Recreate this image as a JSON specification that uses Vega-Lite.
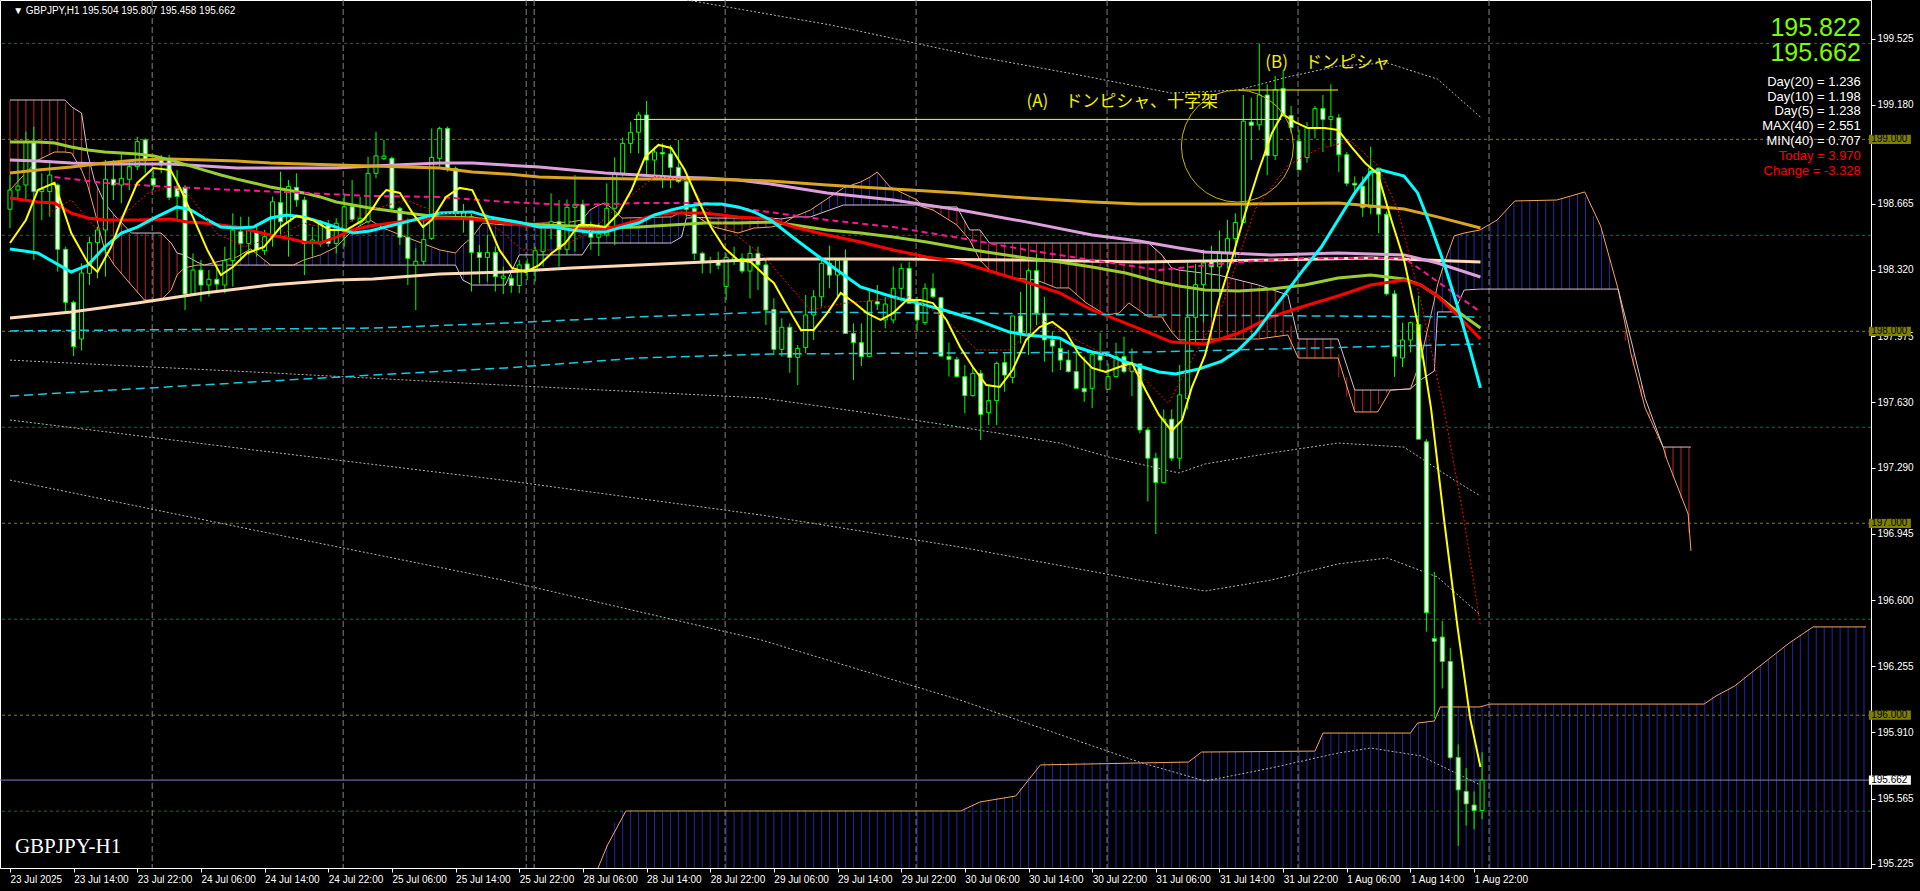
{
"$schema":"https://vega.github.io/schema/vega-lite/v6.json",
"width":1871,"height":868,
"autosize":{"type":"none"},
"padding":{"left":0,"top":0,"right":49,"bottom":23},
"background":"#000000",
"resolve":{"scale":{"color":"independent","strokeDash":"independent"}},
"config":{"view":{"stroke":"#ffffff","strokeWidth":1},"axis":{"grid":false,"labelColor":"#ffffff","tickColor":"#ffffff","domainColor":"#ffffff","labelFont":"Liberation Sans","labelFontSize":10,"tickSize":4,"labelPadding":2}},
"datasets":{
"c":[
{"i":0,"o":198.636,"h":198.814,"l":198.537,"c":198.736},
{"i":1,"o":198.736,"h":198.884,"l":198.684,"c":198.757},
{"i":2,"o":198.762,"h":199.040,"l":198.684,"c":198.988},
{"i":3,"o":198.988,"h":199.066,"l":198.372,"c":198.728},
{"i":4,"o":198.728,"h":198.823,"l":198.580,"c":198.740},
{"i":5,"o":198.728,"h":198.893,"l":198.597,"c":198.814},
{"i":6,"o":198.762,"h":198.771,"l":198.311,"c":198.427},
{"i":7,"o":198.427,"h":198.441,"l":198.102,"c":198.151},
{"i":8,"o":198.151,"h":198.160,"l":197.870,"c":197.920},
{"i":9,"o":197.960,"h":198.354,"l":197.900,"c":198.304},
{"i":10,"o":198.302,"h":198.493,"l":198.241,"c":198.462},
{"i":11,"o":198.462,"h":198.545,"l":198.276,"c":198.528},
{"i":12,"o":198.528,"h":198.893,"l":198.285,"c":198.792},
{"i":13,"o":198.792,"h":198.893,"l":198.684,"c":198.762},
{"i":14,"o":198.762,"h":198.927,"l":198.667,"c":198.797},
{"i":15,"o":198.792,"h":198.893,"l":198.736,"c":198.858},
{"i":16,"o":198.858,"h":199.014,"l":198.840,"c":198.988},
{"i":17,"o":198.997,"h":199.005,"l":198.823,"c":198.889},
{"i":18,"o":198.797,"h":198.840,"l":198.736,"c":198.762},
{"i":19,"o":198.896,"h":198.919,"l":198.823,"c":198.867},
{"i":20,"o":198.896,"h":198.919,"l":198.684,"c":198.698},
{"i":21,"o":198.745,"h":198.840,"l":198.571,"c":198.702},
{"i":22,"o":198.750,"h":198.762,"l":198.111,"c":198.194},
{"i":23,"o":198.194,"h":198.406,"l":198.189,"c":198.319},
{"i":24,"o":198.319,"h":198.372,"l":198.155,"c":198.241},
{"i":25,"o":198.241,"h":198.319,"l":198.181,"c":198.271},
{"i":26,"o":198.271,"h":198.337,"l":198.207,"c":198.246},
{"i":27,"o":198.241,"h":198.441,"l":198.198,"c":198.368},
{"i":28,"o":198.368,"h":198.615,"l":198.233,"c":198.528},
{"i":29,"o":198.519,"h":198.597,"l":198.372,"c":198.458},
{"i":30,"o":198.458,"h":198.597,"l":198.398,"c":198.528},
{"i":31,"o":198.519,"h":198.545,"l":198.389,"c":198.424},
{"i":32,"o":198.420,"h":198.528,"l":198.398,"c":198.493},
{"i":33,"o":198.493,"h":198.702,"l":198.441,"c":198.675},
{"i":34,"o":198.670,"h":198.832,"l":198.493,"c":198.571},
{"i":35,"o":198.571,"h":198.788,"l":198.389,"c":198.754},
{"i":36,"o":198.750,"h":198.823,"l":198.649,"c":198.684},
{"i":37,"o":198.684,"h":198.702,"l":198.293,"c":198.458},
{"i":38,"o":198.458,"h":198.545,"l":198.389,"c":198.476},
{"i":39,"o":198.455,"h":198.580,"l":198.441,"c":198.563},
{"i":40,"o":198.557,"h":198.580,"l":198.441,"c":198.458},
{"i":41,"o":198.458,"h":198.589,"l":198.406,"c":198.563},
{"i":42,"o":198.519,"h":198.719,"l":198.441,"c":198.649},
{"i":43,"o":198.649,"h":198.788,"l":198.571,"c":198.583},
{"i":44,"o":198.566,"h":198.702,"l":198.554,"c":198.589},
{"i":45,"o":198.571,"h":198.910,"l":198.563,"c":198.823},
{"i":46,"o":198.823,"h":199.040,"l":198.797,"c":198.914},
{"i":47,"o":198.899,"h":198.997,"l":198.892,"c":198.913},
{"i":48,"o":198.901,"h":198.910,"l":198.623,"c":198.641},
{"i":49,"o":198.641,"h":198.649,"l":198.450,"c":198.490},
{"i":50,"o":198.490,"h":198.589,"l":198.241,"c":198.380},
{"i":51,"o":198.344,"h":198.432,"l":198.111,"c":198.365},
{"i":52,"o":198.365,"h":198.580,"l":198.346,"c":198.479},
{"i":53,"o":198.484,"h":199.057,"l":198.476,"c":198.906},
{"i":54,"o":198.901,"h":199.066,"l":198.858,"c":199.057},
{"i":55,"o":199.057,"h":199.066,"l":198.832,"c":198.849},
{"i":56,"o":198.849,"h":198.858,"l":198.589,"c":198.618},
{"i":57,"o":198.597,"h":198.663,"l":198.514,"c":198.618},
{"i":58,"o":198.597,"h":198.615,"l":198.207,"c":198.411},
{"i":59,"o":198.411,"h":198.450,"l":198.250,"c":198.385},
{"i":60,"o":198.385,"h":198.502,"l":198.259,"c":198.411},
{"i":61,"o":198.411,"h":198.441,"l":198.207,"c":198.285},
{"i":62,"o":198.276,"h":198.337,"l":198.194,"c":198.288},
{"i":63,"o":198.276,"h":198.297,"l":198.200,"c":198.239},
{"i":64,"o":198.239,"h":198.372,"l":198.198,"c":198.346},
{"i":65,"o":198.351,"h":198.380,"l":198.267,"c":198.316},
{"i":66,"o":198.316,"h":198.441,"l":198.259,"c":198.420},
{"i":67,"o":198.415,"h":198.562,"l":198.337,"c":198.557},
{"i":68,"o":198.550,"h":198.719,"l":198.479,"c":198.571},
{"i":69,"o":198.571,"h":198.684,"l":198.337,"c":198.427},
{"i":70,"o":198.427,"h":198.687,"l":198.398,"c":198.646},
{"i":71,"o":198.646,"h":198.814,"l":198.415,"c":198.662},
{"i":72,"o":198.662,"h":198.684,"l":198.510,"c":198.554},
{"i":73,"o":198.554,"h":198.571,"l":198.424,"c":198.490},
{"i":74,"o":198.490,"h":198.562,"l":198.392,"c":198.507},
{"i":75,"o":198.502,"h":198.771,"l":198.493,"c":198.641},
{"i":76,"o":198.641,"h":198.906,"l":198.450,"c":198.823},
{"i":77,"o":198.823,"h":199.009,"l":198.806,"c":198.979},
{"i":78,"o":198.979,"h":199.092,"l":198.927,"c":199.037},
{"i":79,"o":199.037,"h":199.144,"l":198.927,"c":199.127},
{"i":80,"o":199.127,"h":199.200,"l":198.806,"c":198.892},
{"i":81,"o":198.892,"h":198.962,"l":198.797,"c":198.934},
{"i":82,"o":198.931,"h":198.979,"l":198.745,"c":198.924},
{"i":83,"o":198.924,"h":198.971,"l":198.745,"c":198.854},
{"i":84,"o":198.854,"h":198.997,"l":198.771,"c":198.780},
{"i":85,"o":198.780,"h":198.806,"l":198.597,"c":198.635},
{"i":86,"o":198.641,"h":198.649,"l":198.371,"c":198.406},
{"i":87,"o":198.406,"h":198.415,"l":198.302,"c":198.358},
{"i":88,"o":198.363,"h":198.389,"l":198.302,"c":198.358},
{"i":89,"o":198.361,"h":198.415,"l":198.323,"c":198.344},
{"i":90,"o":198.233,"h":198.406,"l":198.163,"c":198.385},
{"i":91,"o":198.375,"h":198.441,"l":198.346,"c":198.383},
{"i":92,"o":198.380,"h":198.406,"l":198.302,"c":198.314},
{"i":93,"o":198.314,"h":198.444,"l":198.172,"c":198.406},
{"i":94,"o":198.406,"h":198.441,"l":198.215,"c":198.346},
{"i":95,"o":198.346,"h":198.371,"l":198.033,"c":198.111},
{"i":96,"o":198.114,"h":198.172,"l":197.876,"c":197.906},
{"i":97,"o":197.906,"h":198.068,"l":197.868,"c":198.021},
{"i":98,"o":198.021,"h":198.042,"l":197.784,"c":197.864},
{"i":99,"o":197.864,"h":197.929,"l":197.720,"c":197.911},
{"i":100,"o":197.916,"h":198.189,"l":197.886,"c":198.085},
{"i":101,"o":198.085,"h":198.215,"l":197.955,"c":198.180},
{"i":102,"o":198.180,"h":198.380,"l":198.128,"c":198.354},
{"i":103,"o":198.354,"h":198.446,"l":198.224,"c":198.293},
{"i":104,"o":198.293,"h":198.380,"l":198.172,"c":198.371},
{"i":105,"o":198.371,"h":198.427,"l":197.989,"c":197.989},
{"i":106,"o":197.989,"h":198.041,"l":197.746,"c":197.941},
{"i":107,"o":197.941,"h":198.041,"l":197.819,"c":197.868},
{"i":108,"o":197.868,"h":198.215,"l":197.868,"c":198.158},
{"i":109,"o":198.154,"h":198.241,"l":198.111,"c":198.142},
{"i":110,"o":198.059,"h":198.180,"l":198.015,"c":198.142},
{"i":111,"o":198.059,"h":198.337,"l":198.041,"c":198.224},
{"i":112,"o":198.224,"h":198.354,"l":198.154,"c":198.328},
{"i":113,"o":198.328,"h":198.363,"l":198.146,"c":198.146},
{"i":114,"o":198.154,"h":198.180,"l":197.998,"c":198.059},
{"i":115,"o":198.045,"h":198.250,"l":198.033,"c":198.224},
{"i":116,"o":198.224,"h":198.302,"l":198.172,"c":198.180},
{"i":117,"o":198.175,"h":198.180,"l":197.868,"c":197.871},
{"i":118,"o":197.868,"h":197.941,"l":197.764,"c":197.854},
{"i":119,"o":197.854,"h":197.868,"l":197.759,"c":197.764},
{"i":120,"o":197.764,"h":197.824,"l":197.573,"c":197.665},
{"i":121,"o":197.665,"h":197.816,"l":197.660,"c":197.781},
{"i":122,"o":197.781,"h":197.798,"l":197.434,"c":197.567},
{"i":123,"o":197.576,"h":197.720,"l":197.512,"c":197.639},
{"i":124,"o":197.639,"h":197.842,"l":197.512,"c":197.833},
{"i":125,"o":197.837,"h":197.885,"l":197.685,"c":197.772},
{"i":126,"o":197.760,"h":198.080,"l":197.729,"c":198.080},
{"i":127,"o":198.080,"h":198.206,"l":197.937,"c":197.989},
{"i":128,"o":197.989,"h":198.328,"l":197.876,"c":198.316},
{"i":129,"o":198.316,"h":198.403,"l":198.033,"c":198.094},
{"i":130,"o":198.094,"h":198.180,"l":197.842,"c":197.955},
{"i":131,"o":197.955,"h":197.998,"l":197.786,"c":197.923},
{"i":132,"o":197.911,"h":197.955,"l":197.798,"c":197.850},
{"i":133,"o":197.850,"h":197.903,"l":197.784,"c":197.791},
{"i":134,"o":197.790,"h":197.903,"l":197.703,"c":197.703},
{"i":135,"o":197.703,"h":197.868,"l":197.633,"c":197.685},
{"i":136,"o":197.703,"h":197.894,"l":197.599,"c":197.880},
{"i":137,"o":197.873,"h":197.993,"l":197.790,"c":197.850},
{"i":138,"o":197.698,"h":197.833,"l":197.694,"c":197.764},
{"i":139,"o":197.764,"h":197.941,"l":197.760,"c":197.868},
{"i":140,"o":197.868,"h":197.972,"l":197.781,"c":197.790},
{"i":141,"o":197.790,"h":197.911,"l":197.663,"c":197.830},
{"i":142,"o":197.830,"h":197.833,"l":197.468,"c":197.486},
{"i":143,"o":197.486,"h":197.500,"l":197.113,"c":197.339},
{"i":144,"o":197.339,"h":197.367,"l":196.944,"c":197.212},
{"i":145,"o":197.212,"h":197.593,"l":197.212,"c":197.542},
{"i":146,"o":197.542,"h":197.593,"l":197.325,"c":197.339},
{"i":147,"o":197.339,"h":197.825,"l":197.283,"c":197.669},
{"i":148,"o":197.650,"h":198.356,"l":197.593,"c":198.073},
{"i":149,"o":198.073,"h":198.350,"l":197.932,"c":198.243},
{"i":150,"o":198.243,"h":198.426,"l":198.045,"c":198.356},
{"i":151,"o":198.361,"h":198.446,"l":198.073,"c":198.336},
{"i":152,"o":198.336,"h":198.525,"l":198.186,"c":198.412},
{"i":153,"o":198.412,"h":198.581,"l":198.327,"c":198.483},
{"i":154,"o":198.483,"h":198.615,"l":198.384,"c":198.567},
{"i":155,"o":198.567,"h":199.231,"l":198.567,"c":199.095},
{"i":156,"o":199.090,"h":199.217,"l":198.892,"c":199.073},
{"i":157,"o":199.076,"h":199.499,"l":199.047,"c":199.231},
{"i":158,"o":199.231,"h":199.287,"l":198.813,"c":198.915},
{"i":159,"o":198.915,"h":199.330,"l":198.892,"c":199.259},
{"i":160,"o":199.265,"h":199.358,"l":199.118,"c":199.124},
{"i":161,"o":199.124,"h":199.174,"l":199.033,"c":199.061},
{"i":162,"o":198.991,"h":199.050,"l":198.841,"c":198.841},
{"i":163,"o":198.906,"h":199.090,"l":198.878,"c":199.061},
{"i":164,"o":199.056,"h":199.174,"l":199.005,"c":199.160},
{"i":165,"o":199.160,"h":199.231,"l":198.934,"c":199.104},
{"i":166,"o":199.104,"h":199.287,"l":198.962,"c":199.118},
{"i":167,"o":199.112,"h":199.132,"l":198.830,"c":198.920},
{"i":168,"o":198.920,"h":198.934,"l":198.756,"c":198.771},
{"i":169,"o":198.771,"h":198.807,"l":198.722,"c":198.762},
{"i":170,"o":198.756,"h":198.807,"l":198.596,"c":198.644},
{"i":171,"o":198.644,"h":198.962,"l":198.610,"c":198.850},
{"i":172,"o":198.850,"h":198.850,"l":198.511,"c":198.610},
{"i":173,"o":198.610,"h":198.624,"l":198.186,"c":198.195},
{"i":174,"o":198.195,"h":198.214,"l":197.763,"c":197.870},
{"i":175,"o":197.861,"h":198.045,"l":197.813,"c":197.955},
{"i":176,"o":197.955,"h":198.050,"l":197.890,"c":198.045},
{"i":177,"o":198.036,"h":198.186,"l":197.438,"c":197.438},
{"i":178,"o":197.424,"h":197.438,"l":196.435,"c":196.534},
{"i":179,"o":196.399,"h":196.746,"l":195.984,"c":196.385},
{"i":180,"o":196.407,"h":196.492,"l":196.139,"c":196.280},
{"i":181,"o":196.280,"h":196.351,"l":195.772,"c":195.780},
{"i":182,"o":195.780,"h":195.848,"l":195.320,"c":195.611},
{"i":183,"o":195.603,"h":195.724,"l":195.425,"c":195.538},
{"i":184,"o":195.532,"h":195.603,"l":195.405,"c":195.504},
{"i":185,"o":195.504,"h":195.807,"l":195.458,"c":195.662}
],
"ln":[
{"s":"y1","i":0,"p":198.460},{"s":"y1","i":2,"p":198.580},{"s":"y1","i":3.5,"p":198.736},{"s":"y1","i":5.6,"p":198.773},{"s":"y1","i":7.7,"p":198.512},{"s":"y1","i":9.8,"p":198.356},{"s":"y1","i":11,"p":198.309},{"s":"y1","i":12.7,"p":198.439},{"s":"y1","i":14,"p":198.580},{"s":"y1","i":16,"p":198.773},{"s":"y1","i":18,"p":198.851},{"s":"y1","i":20.2,"p":198.840},{"s":"y1","i":21.5,"p":198.736},{"s":"y1","i":23,"p":198.595},{"s":"y1","i":24.8,"p":198.424},{"s":"y1","i":26.5,"p":198.293},{"s":"y1","i":28,"p":198.335},{"s":"y1","i":29.8,"p":198.408},{"s":"y1","i":31.9,"p":198.439},{"s":"y1","i":34,"p":198.543},{"s":"y1","i":36,"p":198.601},{"s":"y1","i":38,"p":198.580},{"s":"y1","i":40.2,"p":198.528},{"s":"y1","i":42.3,"p":198.528},{"s":"y1","i":44.4,"p":198.580},{"s":"y1","i":45.6,"p":198.642},{"s":"y1","i":46.5,"p":198.700},{"s":"y1","i":47.3,"p":198.736},{"s":"y1","i":49,"p":198.721},{"s":"y1","i":50.6,"p":198.616},{"s":"y1","i":51.9,"p":198.543},{"s":"y1","i":53,"p":198.580},{"s":"y1","i":54.8,"p":198.700},{"s":"y1","i":56.5,"p":198.747},{"s":"y1","i":58.1,"p":198.736},{"s":"y1","i":59.8,"p":198.590},{"s":"y1","i":61.5,"p":198.424},{"s":"y1","i":63.1,"p":198.330},{"s":"y1","i":64.8,"p":198.309},{"s":"y1","i":66.5,"p":198.345},{"s":"y1","i":68.1,"p":198.408},{"s":"y1","i":69.8,"p":198.460},{"s":"y1","i":71.5,"p":198.554},{"s":"y1","i":73.1,"p":198.554},{"s":"y1","i":74.8,"p":198.543},{"s":"y1","i":76.5,"p":198.616},{"s":"y1","i":78.1,"p":198.736},{"s":"y1","i":79.8,"p":198.908},{"s":"y1","i":81.5,"p":198.971},{"s":"y1","i":83.1,"p":198.955},{"s":"y1","i":84.8,"p":198.840},{"s":"y1","i":86.5,"p":198.684},{"s":"y1","i":88.1,"p":198.543},{"s":"y1","i":89.8,"p":198.434},{"s":"y1","i":91.5,"p":198.371},{"s":"y1","i":93.1,"p":198.361},{"s":"y1","i":94.8,"p":198.293},{"s":"y1","i":96,"p":198.252},{"s":"y1","i":97.7,"p":198.127},{"s":"y1","i":99.4,"p":198.007},{"s":"y1","i":101,"p":198.007},{"s":"y1","i":102.7,"p":198.095},{"s":"y1","i":104.4,"p":198.200},{"s":"y1","i":106,"p":198.153},{"s":"y1","i":107.7,"p":198.095},{"s":"y1","i":109.4,"p":198.059},{"s":"y1","i":111,"p":198.095},{"s":"y1","i":112.7,"p":198.163},{"s":"y1","i":114.4,"p":198.163},{"s":"y1","i":116,"p":198.147},{"s":"y1","i":117.7,"p":198.059},{"s":"y1","i":119.4,"p":197.918},{"s":"y1","i":121,"p":197.814},{"s":"y1","i":122.7,"p":197.720},{"s":"y1","i":124.4,"p":197.710},{"s":"y1","i":126,"p":197.798},{"s":"y1","i":127.7,"p":197.955},{"s":"y1","i":129.4,"p":198.022},{"s":"y1","i":131,"p":198.049},{"s":"y1","i":132.7,"p":197.996},{"s":"y1","i":134.4,"p":197.877},{"s":"y1","i":136,"p":197.809},{"s":"y1","i":137.7,"p":197.788},{"s":"y1","i":139.4,"p":197.814},{"s":"y1","i":141,"p":197.835},{"s":"y1","i":142.7,"p":197.694},{"s":"y1","i":144.4,"p":197.564},{"s":"y1","i":146,"p":197.481},{"s":"y1","i":147.3,"p":197.538},{"s":"y1","i":148.5,"p":197.705},{"s":"y1","i":150.2,"p":197.877},{"s":"y1","i":151.9,"p":198.158},{"s":"y1","i":153.6,"p":198.382},{"s":"y1","i":155.2,"p":198.611},{"s":"y1","i":156.9,"p":198.835},{"s":"y1","i":158.6,"p":199.033},{"s":"y1","i":159.9,"p":199.132},{"s":"y1","i":161.5,"p":199.090},{"s":"y1","i":163.1,"p":199.059},{"s":"y1","i":165.2,"p":199.059},{"s":"y1","i":166.9,"p":199.049},{"s":"y1","i":168.6,"p":198.960},{"s":"y1","i":170.3,"p":198.877},{"s":"y1","i":171.9,"p":198.820},{"s":"y1","i":173.6,"p":198.580},{"s":"y1","i":175.2,"p":198.371},{"s":"y1","i":176.9,"p":198.043},{"s":"y1","i":178.6,"p":197.595},{"s":"y1","i":180.2,"p":197.027},{"s":"y1","i":181.9,"p":196.465},{"s":"y1","i":183.5,"p":195.985},{"s":"y1","i":184.8,"p":195.730},
{"s":"rd","i":4.8,"p":198.615},{"s":"rd","i":7.7,"p":198.684},{"s":"rd","i":11,"p":198.528},{"s":"rd","i":14,"p":198.597},{"s":"rd","i":17.3,"p":198.719},{"s":"rd","i":20.2,"p":198.753},{"s":"rd","i":22.7,"p":198.701},{"s":"rd","i":26,"p":198.511},{"s":"rd","i":29.4,"p":198.441},{"s":"rd","i":33.5,"p":198.493},{"s":"rd","i":36.9,"p":198.563},{"s":"rd","i":41,"p":198.528},{"s":"rd","i":45.2,"p":198.632},{"s":"rd","i":49.8,"p":198.684},{"s":"rd","i":54,"p":198.615},{"s":"rd","i":58.1,"p":198.615},{"s":"rd","i":61.5,"p":198.528},{"s":"rd","i":64.4,"p":198.424},{"s":"rd","i":68.5,"p":198.424},{"s":"rd","i":72.7,"p":198.511},{"s":"rd","i":76.9,"p":198.667},{"s":"rd","i":81,"p":198.806},{"s":"rd","i":85.2,"p":198.788},{"s":"rd","i":87.3,"p":198.649},{"s":"rd","i":91.5,"p":198.493},{"s":"rd","i":94.8,"p":198.389},{"s":"rd","i":100.6,"p":198.111},{"s":"rd","i":104.8,"p":198.146},{"s":"rd","i":109,"p":198.163},{"s":"rd","i":113.1,"p":198.180},{"s":"rd","i":117.3,"p":198.076},{"s":"rd","i":121.5,"p":197.903},{"s":"rd","i":125.6,"p":197.903},{"s":"rd","i":129.8,"p":198.059},{"s":"rd","i":134,"p":197.955},{"s":"rd","i":138.1,"p":197.868},{"s":"rd","i":142.3,"p":197.764},{"s":"rd","i":145.6,"p":197.625},{"s":"rd","i":148.1,"p":197.819},{"s":"rd","i":152.3,"p":198.132},{"s":"rd","i":156.5,"p":198.637},{"s":"rd","i":160.6,"p":198.864},{"s":"rd","i":164.4,"p":198.950},{"s":"rd","i":168.5,"p":198.991},{"s":"rd","i":171.9,"p":198.864},{"s":"rd","i":174.4,"p":198.637},{"s":"rd","i":177.3,"p":198.158},{"s":"rd","i":180.2,"p":197.595},{"s":"rd","i":182.7,"p":197.027},{"s":"rd","i":184.8,"p":196.465},
{"s":"cy","i":0,"p":198.429},{"s":"cy","i":3.5,"p":198.408},{"s":"cy","i":7.7,"p":198.309},{"s":"cy","i":9.8,"p":198.345},{"s":"cy","i":11.9,"p":198.439},{"s":"cy","i":14,"p":198.512},{"s":"cy","i":16,"p":198.543},{"s":"cy","i":18.1,"p":198.590},{"s":"cy","i":21,"p":198.648},{"s":"cy","i":22.7,"p":198.632},{"s":"cy","i":24.4,"p":198.590},{"s":"cy","i":26.5,"p":198.543},{"s":"cy","i":28.5,"p":198.538},{"s":"cy","i":30.6,"p":198.543},{"s":"cy","i":32.7,"p":198.590},{"s":"cy","i":34.8,"p":198.606},{"s":"cy","i":36.9,"p":198.596},{"s":"cy","i":39,"p":198.570},{"s":"cy","i":41,"p":198.543},{"s":"cy","i":43.1,"p":198.512},{"s":"cy","i":45.2,"p":198.523},{"s":"cy","i":49.8,"p":198.570},{"s":"cy","i":54,"p":198.616},{"s":"cy","i":58.1,"p":198.622},{"s":"cy","i":60.2,"p":198.596},{"s":"cy","i":62.3,"p":198.580},{"s":"cy","i":64.4,"p":198.564},{"s":"cy","i":66.5,"p":198.543},{"s":"cy","i":68.5,"p":198.543},{"s":"cy","i":70.6,"p":198.528},{"s":"cy","i":72.8,"p":198.517},{"s":"cy","i":74.8,"p":198.517},{"s":"cy","i":76.9,"p":198.543},{"s":"cy","i":79,"p":198.564},{"s":"cy","i":81,"p":198.606},{"s":"cy","i":83.1,"p":198.632},{"s":"cy","i":85.2,"p":198.653},{"s":"cy","i":87.3,"p":198.663},{"s":"cy","i":89.4,"p":198.663},{"s":"cy","i":91.5,"p":198.648},{"s":"cy","i":93.5,"p":198.622},{"s":"cy","i":95.6,"p":198.580},{"s":"cy","i":98.5,"p":198.486},{"s":"cy","i":102.7,"p":198.356},{"s":"cy","i":106.9,"p":198.231},{"s":"cy","i":111,"p":198.179},{"s":"cy","i":114,"p":198.148},{"s":"cy","i":117.3,"p":198.111},{"s":"cy","i":121.5,"p":198.059},{"s":"cy","i":125.6,"p":197.996},{"s":"cy","i":127.7,"p":197.981},{"s":"cy","i":131.9,"p":197.965},{"s":"cy","i":134,"p":197.918},{"s":"cy","i":136,"p":197.892},{"s":"cy","i":138.1,"p":197.877},{"s":"cy","i":140.2,"p":197.840},{"s":"cy","i":142.3,"p":197.814},{"s":"cy","i":144.4,"p":197.788},{"s":"cy","i":146.5,"p":197.778},{"s":"cy","i":149.4,"p":197.804},{"s":"cy","i":152.3,"p":197.845},{"s":"cy","i":154.4,"p":197.903},{"s":"cy","i":156.5,"p":197.991},{"s":"cy","i":158.5,"p":198.101},{"s":"cy","i":160.6,"p":198.215},{"s":"cy","i":162.7,"p":198.330},{"s":"cy","i":164.8,"p":198.439},{"s":"cy","i":166.9,"p":198.580},{"s":"cy","i":169,"p":198.721},{"s":"cy","i":171,"p":198.830},{"s":"cy","i":172.3,"p":198.840},{"s":"cy","i":175.2,"p":198.809},{"s":"cy","i":176.9,"p":198.721},{"s":"cy","i":178.5,"p":198.554},{"s":"cy","i":180.2,"p":198.356},{"s":"cy","i":181.9,"p":198.132},{"s":"cy","i":183.5,"p":197.903},{"s":"cy","i":184.8,"p":197.705},
{"s":"rt","i":0,"p":198.694},{"s":"rt","i":3.5,"p":198.674},{"s":"rt","i":5.6,"p":198.668},{"s":"rt","i":7.7,"p":198.616},{"s":"rt","i":9.8,"p":198.590},{"s":"rt","i":11.9,"p":198.580},{"s":"rt","i":16,"p":198.580},{"s":"rt","i":20.2,"p":198.585},{"s":"rt","i":22.3,"p":198.570},{"s":"rt","i":24.4,"p":198.564},{"s":"rt","i":28.5,"p":198.543},{"s":"rt","i":32.7,"p":198.502},{"s":"rt","i":34.8,"p":198.486},{"s":"rt","i":36.9,"p":198.465},{"s":"rt","i":39,"p":198.460},{"s":"rt","i":41,"p":198.491},{"s":"rt","i":43.1,"p":198.528},{"s":"rt","i":45.2,"p":198.549},{"s":"rt","i":49.8,"p":198.575},{"s":"rt","i":54,"p":198.590},{"s":"rt","i":58.1,"p":198.585},{"s":"rt","i":62.3,"p":198.564},{"s":"rt","i":66.5,"p":198.543},{"s":"rt","i":70.6,"p":198.533},{"s":"rt","i":74.8,"p":198.533},{"s":"rt","i":76.9,"p":198.554},{"s":"rt","i":79,"p":198.580},{"s":"rt","i":81,"p":198.606},{"s":"rt","i":83.1,"p":198.616},{"s":"rt","i":87.3,"p":198.616},{"s":"rt","i":91.5,"p":198.596},{"s":"rt","i":95.6,"p":198.585},{"s":"rt","i":98.5,"p":198.543},{"s":"rt","i":102.7,"p":198.502},{"s":"rt","i":106.9,"p":198.465},{"s":"rt","i":111,"p":198.424},{"s":"rt","i":115.2,"p":198.387},{"s":"rt","i":119.4,"p":198.361},{"s":"rt","i":123.5,"p":198.309},{"s":"rt","i":127.7,"p":198.257},{"s":"rt","i":131.9,"p":198.200},{"s":"rt","i":136,"p":198.111},{"s":"rt","i":140.2,"p":198.043},{"s":"rt","i":142.3,"p":198.007},{"s":"rt","i":146,"p":197.944},{"s":"rt","i":150.2,"p":197.934},{"s":"rt","i":154.4,"p":197.991},{"s":"rt","i":158.5,"p":198.075},{"s":"rt","i":162.7,"p":198.132},{"s":"rt","i":166.9,"p":198.184},{"s":"rt","i":171,"p":198.241},{"s":"rt","i":175.2,"p":198.267},{"s":"rt","i":177.3,"p":198.241},{"s":"rt","i":179.4,"p":198.184},{"s":"rt","i":181.5,"p":198.101},{"s":"rt","i":184.8,"p":197.960},
{"s":"yg","i":0,"p":198.986},{"s":"yg","i":3.5,"p":198.986},{"s":"yg","i":5.6,"p":198.981},{"s":"yg","i":7.7,"p":198.960},{"s":"yg","i":9.8,"p":198.945},{"s":"yg","i":11.9,"p":198.934},{"s":"yg","i":14,"p":198.929},{"s":"yg","i":16,"p":198.924},{"s":"yg","i":18.1,"p":198.913},{"s":"yg","i":20.2,"p":198.892},{"s":"yg","i":22.3,"p":198.866},{"s":"yg","i":24.4,"p":198.840},{"s":"yg","i":26.5,"p":198.814},{"s":"yg","i":28.5,"p":198.793},{"s":"yg","i":30.6,"p":198.773},{"s":"yg","i":32.7,"p":198.752},{"s":"yg","i":34.8,"p":198.736},{"s":"yg","i":36.9,"p":198.721},{"s":"yg","i":39,"p":198.700},{"s":"yg","i":41,"p":198.674},{"s":"yg","i":43.1,"p":198.658},{"s":"yg","i":45.2,"p":198.642},{"s":"yg","i":49.8,"p":198.616},{"s":"yg","i":54,"p":198.596},{"s":"yg","i":58.1,"p":198.590},{"s":"yg","i":62.3,"p":198.570},{"s":"yg","i":66.5,"p":198.554},{"s":"yg","i":70.6,"p":198.549},{"s":"yg","i":74.8,"p":198.538},{"s":"yg","i":79,"p":198.543},{"s":"yg","i":83.1,"p":198.554},{"s":"yg","i":87.3,"p":198.564},{"s":"yg","i":91.5,"p":198.564},{"s":"yg","i":95.6,"p":198.570},{"s":"yg","i":98.5,"p":198.554},{"s":"yg","i":102.7,"p":198.528},{"s":"yg","i":106.9,"p":198.512},{"s":"yg","i":111,"p":198.491},{"s":"yg","i":115.2,"p":198.465},{"s":"yg","i":119.4,"p":198.434},{"s":"yg","i":123.5,"p":198.408},{"s":"yg","i":127.7,"p":198.382},{"s":"yg","i":131.9,"p":198.361},{"s":"yg","i":136,"p":198.335},{"s":"yg","i":140.2,"p":198.304},{"s":"yg","i":144.4,"p":198.257},{"s":"yg","i":146.9,"p":198.236},{"s":"yg","i":150.2,"p":198.215},{"s":"yg","i":154.4,"p":198.210},{"s":"yg","i":158.5,"p":198.220},{"s":"yg","i":162.7,"p":198.241},{"s":"yg","i":166.9,"p":198.278},{"s":"yg","i":171,"p":198.293},{"s":"yg","i":175.2,"p":198.273},{"s":"yg","i":177.3,"p":198.241},{"s":"yg","i":179.4,"p":198.184},{"s":"yg","i":181.5,"p":198.116},{"s":"yg","i":184.8,"p":198.017},
{"s":"go","i":0,"p":198.825},{"s":"go","i":3.5,"p":198.840},{"s":"go","i":7.7,"p":198.856},{"s":"go","i":11.9,"p":198.877},{"s":"go","i":16,"p":198.892},{"s":"go","i":20.2,"p":198.898},{"s":"go","i":24.4,"p":198.892},{"s":"go","i":28.5,"p":198.887},{"s":"go","i":32.7,"p":198.877},{"s":"go","i":36.9,"p":198.872},{"s":"go","i":41,"p":198.866},{"s":"go","i":45.6,"p":198.861},{"s":"go","i":49.8,"p":198.856},{"s":"go","i":54,"p":198.851},{"s":"go","i":58.1,"p":198.830},{"s":"go","i":62.3,"p":198.820},{"s":"go","i":66.5,"p":198.804},{"s":"go","i":70.6,"p":198.799},{"s":"go","i":79,"p":198.793},{"s":"go","i":87.3,"p":198.793},{"s":"go","i":91.5,"p":198.788},{"s":"go","i":95.6,"p":198.783},{"s":"go","i":102.7,"p":198.762},{"s":"go","i":111,"p":198.741},{"s":"go","i":119.4,"p":198.721},{"s":"go","i":127.7,"p":198.694},{"s":"go","i":136,"p":198.674},{"s":"go","i":141.9,"p":198.663},{"s":"go","i":154.4,"p":198.663},{"s":"go","i":166.9,"p":198.668},{"s":"go","i":175.2,"p":198.637},{"s":"go","i":179.4,"p":198.596},{"s":"go","i":184.8,"p":198.538},
{"s":"pl","i":0,"p":198.892},{"s":"pl","i":3.5,"p":198.887},{"s":"pl","i":7.7,"p":198.877},{"s":"pl","i":11.9,"p":198.872},{"s":"pl","i":20.2,"p":198.872},{"s":"pl","i":24.4,"p":198.861},{"s":"pl","i":28.5,"p":198.851},{"s":"pl","i":41,"p":198.851},{"s":"pl","i":45.6,"p":198.861},{"s":"pl","i":54,"p":198.877},{"s":"pl","i":58.1,"p":198.877},{"s":"pl","i":62.3,"p":198.866},{"s":"pl","i":66.5,"p":198.856},{"s":"pl","i":70.6,"p":198.840},{"s":"pl","i":74.8,"p":198.825},{"s":"pl","i":79,"p":198.814},{"s":"pl","i":83.1,"p":198.804},{"s":"pl","i":87.3,"p":198.799},{"s":"pl","i":91.5,"p":198.788},{"s":"pl","i":95.6,"p":198.767},{"s":"pl","i":102.7,"p":198.721},{"s":"pl","i":111,"p":198.684},{"s":"pl","i":119.4,"p":198.632},{"s":"pl","i":127.7,"p":198.570},{"s":"pl","i":136,"p":198.502},{"s":"pl","i":141.9,"p":198.470},{"s":"pl","i":146.9,"p":198.434},{"s":"pl","i":150.2,"p":198.413},{"s":"pl","i":158.5,"p":198.398},{"s":"pl","i":166.9,"p":198.408},{"s":"pl","i":175.2,"p":198.398},{"s":"pl","i":179.4,"p":198.356},{"s":"pl","i":184.8,"p":198.283},
{"s":"pe","i":0,"p":198.069},{"s":"pe","i":7.7,"p":198.101},{"s":"pe","i":16,"p":198.148},{"s":"pe","i":24.4,"p":198.200},{"s":"pe","i":32.7,"p":198.241},{"s":"pe","i":41,"p":198.267},{"s":"pe","i":45.6,"p":198.273},{"s":"pe","i":54,"p":198.299},{"s":"pe","i":62.3,"p":198.309},{"s":"pe","i":70.6,"p":198.330},{"s":"pe","i":79,"p":198.345},{"s":"pe","i":87.3,"p":198.361},{"s":"pe","i":95.6,"p":198.377},{"s":"pe","i":111,"p":198.377},{"s":"pe","i":127.7,"p":198.371},{"s":"pe","i":141.9,"p":198.361},{"s":"pe","i":158.5,"p":198.371},{"s":"pe","i":171,"p":198.382},{"s":"pe","i":184.8,"p":198.361},
{"s":"pk","i":5.6,"p":198.804},{"s":"pk","i":11.9,"p":198.773},{"s":"pk","i":20.2,"p":198.752},{"s":"pk","i":28.5,"p":198.736},{"s":"pk","i":36.9,"p":198.721},{"s":"pk","i":45.2,"p":198.705},{"s":"pk","i":54,"p":198.700},{"s":"pk","i":62.3,"p":198.674},{"s":"pk","i":70.6,"p":198.658},{"s":"pk","i":79,"p":198.668},{"s":"pk","i":87.3,"p":198.668},{"s":"pk","i":94.4,"p":198.627},{"s":"pk","i":102.7,"p":198.580},{"s":"pk","i":111,"p":198.543},{"s":"pk","i":119.4,"p":198.486},{"s":"pk","i":127.7,"p":198.424},{"s":"pk","i":136,"p":198.371},{"s":"pk","i":144.4,"p":198.319},{"s":"pk","i":154.4,"p":198.361},{"s":"pk","i":162.7,"p":198.382},{"s":"pk","i":175.2,"p":198.382},{"s":"pk","i":184.8,"p":198.101},
{"s":"cu","i":0,"p":198.002},{"s":"cu","i":45.6,"p":198.017},{"s":"cu","i":62.3,"p":198.043},{"s":"cu","i":79,"p":198.075},{"s":"cu","i":95.6,"p":198.101},{"s":"cu","i":119.4,"p":198.095},{"s":"cu","i":143.1,"p":198.085},{"s":"cu","i":184.8,"p":198.075},
{"s":"cl","i":0,"p":197.663},{"s":"cl","i":45.6,"p":197.772},{"s":"cl","i":62.3,"p":197.809},{"s":"cl","i":79,"p":197.861},{"s":"cl","i":95.6,"p":197.882},{"s":"cl","i":143.1,"p":197.892},{"s":"cl","i":184.8,"p":197.934},
{"s":"b0","i":85.1,"p":199.726},{"s":"b0","i":103.1,"p":199.596},{"s":"b0","i":121.9,"p":199.429},{"s":"b0","i":134.4,"p":199.335},{"s":"b0","i":146,"p":199.241},{"s":"b0","i":154.4,"p":199.257},{"s":"b0","i":160.6,"p":199.325},{"s":"b0","i":166.9,"p":199.382},{"s":"b0","i":173.1,"p":199.398},{"s":"b0","i":179.4,"p":199.314},{"s":"b0","i":184.8,"p":199.116},
{"s":"b1","i":0,"p":197.850},{"s":"b1","i":30.6,"p":197.788},{"s":"b1","i":61.9,"p":197.720},{"s":"b1","i":94.4,"p":197.653},{"s":"b1","i":106.9,"p":197.580},{"s":"b1","i":119.4,"p":197.501},{"s":"b1","i":131.9,"p":197.418},{"s":"b1","i":138.1,"p":197.345},{"s":"b1","i":146.9,"p":197.262},{"s":"b1","i":150.2,"p":197.309},{"s":"b1","i":158.5,"p":197.366},{"s":"b1","i":166.9,"p":197.418},{"s":"b1","i":175.2,"p":197.397},{"s":"b1","i":181.5,"p":197.225},{"s":"b1","i":184.8,"p":197.142},
{"s":"b2","i":0,"p":197.538},{"s":"b2","i":30.6,"p":197.382},{"s":"b2","i":61.9,"p":197.225},{"s":"b2","i":94.4,"p":197.043},{"s":"b2","i":119.4,"p":196.876},{"s":"b2","i":141.9,"p":196.704},{"s":"b2","i":150.2,"p":196.647},{"s":"b2","i":158.5,"p":196.704},{"s":"b2","i":166.9,"p":196.788},{"s":"b2","i":173.1,"p":196.819},{"s":"b2","i":179.4,"p":196.720},{"s":"b2","i":184.8,"p":196.522},
{"s":"b3","i":0,"p":197.225},{"s":"b3","i":30.6,"p":196.965},{"s":"b3","i":61.9,"p":196.704},{"s":"b3","i":94.4,"p":196.392},{"s":"b3","i":119.4,"p":196.079},{"s":"b3","i":141.9,"p":195.756},{"s":"b3","i":150.2,"p":195.657},{"s":"b3","i":158.5,"p":195.725},{"s":"b3","i":166.9,"p":195.803},{"s":"b3","i":171,"p":195.829},{"s":"b3","i":177.3,"p":195.788},{"s":"b3","i":184.8,"p":195.636}
],
"ku":[
{"i":0,"a":198.736,"b":199.205},{"i":3.5,"a":198.892,"b":199.205},{"i":5.6,"a":198.934,"b":199.205},{"i":6.9,"a":198.934,"b":199.205},{"i":7.75,"a":198.929,"b":199.169},{"i":9,"a":198.840,"b":199.137},{"i":9.75,"a":198.762,"b":198.929},{"i":10.6,"a":198.632,"b":198.788},{"i":11.9,"a":198.424,"b":198.668},{"i":13.1,"a":198.345,"b":198.606},{"i":15.25,"a":198.241,"b":198.512},{"i":16.9,"a":198.163,"b":198.512},{"i":19,"a":198.163,"b":198.512},{"i":20.25,"a":198.215,"b":198.460},{"i":21,"a":198.293,"b":198.408},{"i":21.9,"a":198.330,"b":198.398},{"i":23.5,"a":198.345,"b":198.361},{"i":24.4,"a":198.345,"b":198.345},
{"i":28.5,"a":198.387,"b":198.345},{"i":30.25,"a":198.429,"b":198.345},{"i":32.75,"a":198.345,"b":198.345},{"i":35.6,"a":198.345,"b":198.345},{"i":36.9,"a":198.371,"b":198.345},{"i":39,"a":198.398,"b":198.345},{"i":41,"a":198.439,"b":198.345},{"i":43.1,"a":198.528,"b":198.345},{"i":45.25,"a":198.580,"b":198.345},{"i":46.9,"a":198.538,"b":198.345},{"i":49.75,"a":198.491,"b":198.345},{"i":54,"a":198.424,"b":198.345},{"i":56,"a":198.408,"b":198.345},{"i":56.9,"a":198.450,"b":198.267},{"i":58.1,"a":198.491,"b":198.241},{"i":59.4,"a":198.564,"b":198.241},{"i":62.25,"a":198.554,"b":198.241},{"i":63.1,"a":198.554,"b":198.319},{"i":64,"a":198.559,"b":198.398},{"i":70.6,"a":198.570,"b":198.398},{"i":71.9,"a":198.580,"b":198.398},{"i":72.9,"a":198.632,"b":198.460},{"i":74,"a":198.658,"b":198.460},{"i":74.75,"a":198.668,"b":198.460},{"i":75.6,"a":198.642,"b":198.460},{"i":76.9,"a":198.590,"b":198.460},{"i":83.1,"a":198.596,"b":198.460},{"i":84.4,"a":198.622,"b":198.491},{"i":85,"a":198.606,"b":198.590},{"i":86.5,"a":198.593,"b":198.593},
{"i":88.5,"a":198.543,"b":198.590},{"i":91.5,"a":198.512,"b":198.590},{"i":93.5,"a":198.538,"b":198.590},{"i":95.6,"a":198.543,"b":198.590},{"i":96.9,"a":198.554,"b":198.585},{"i":98.5,"a":198.596,"b":198.596},
{"i":100.6,"a":198.632,"b":198.596},{"i":104.75,"a":198.747,"b":198.658},{"i":106.9,"a":198.778,"b":198.658},{"i":108.1,"a":198.804,"b":198.658},{"i":109,"a":198.830,"b":198.658},{"i":110.6,"a":198.752,"b":198.658},{"i":114,"a":198.684,"b":198.658},{"i":114.75,"a":198.648,"b":198.648},
{"i":116,"a":198.632,"b":198.648},{"i":119,"a":198.554,"b":198.648},{"i":120.6,"a":198.476,"b":198.528},{"i":121.9,"a":198.371,"b":198.528},{"i":123.1,"a":198.319,"b":198.460},{"i":126,"a":198.278,"b":198.460},{"i":129,"a":198.267,"b":198.460},{"i":131.5,"a":198.226,"b":198.460},{"i":133.1,"a":198.226,"b":198.460},{"i":135.25,"a":198.148,"b":198.460},{"i":137.75,"a":198.085,"b":198.460},{"i":139.4,"a":198.095,"b":198.460},{"i":140.6,"a":198.148,"b":198.460},{"i":143.1,"a":198.075,"b":198.460},{"i":144.75,"a":198.075,"b":198.398},{"i":146,"a":197.996,"b":198.330},{"i":146.9,"a":197.955,"b":198.319},{"i":151.9,"a":197.960,"b":198.293},{"i":156.9,"a":197.960,"b":198.241},{"i":160.6,"a":197.981,"b":198.189},{"i":161.9,"a":197.861,"b":197.960},{"i":166.9,"a":197.861,"b":197.960},{"i":169,"a":197.580,"b":197.694},{"i":171.9,"a":197.580,"b":197.694},{"i":173.5,"a":197.694,"b":197.694},{"i":176,"a":197.700,"b":197.700},
{"i":177.25,"a":197.845,"b":197.746},{"i":179,"a":198.163,"b":197.793},{"i":179.4,"a":198.241,"b":198.101},{"i":180.25,"a":198.356,"b":198.101},{"i":181.5,"a":198.497,"b":198.101},{"i":182.75,"a":198.512,"b":198.215},{"i":184.75,"a":198.528,"b":198.220},{"i":186.9,"a":198.580,"b":198.220},{"i":189.1,"a":198.679,"b":198.220},{"i":194.4,"a":198.684,"b":198.220},{"i":197.9,"a":198.726,"b":198.220},{"i":199.9,"a":198.549,"b":198.220},{"i":202.1,"a":198.220,"b":198.220},
{"i":203.75,"a":197.877,"b":197.950},{"i":205.5,"a":197.600,"b":197.650},{"i":207.75,"a":197.397,"b":197.397},{"i":208.25,"a":197.330,"b":197.397},{"i":210.9,"a":197.048,"b":197.397},{"i":211.25,"a":196.856,"b":197.397}
],
"kh":[
{"i":0,"a":198.736,"b":199.205},{"i":1,"a":198.78,"b":199.205},{"i":2,"a":198.82,"b":199.205},{"i":3,"a":198.87,"b":199.205},{"i":4,"a":198.90,"b":199.205},{"i":5,"a":198.92,"b":199.205},{"i":6,"a":198.934,"b":199.205},{"i":7,"a":198.932,"b":199.19},{"i":8,"a":198.91,"b":199.16},{"i":9,"a":198.84,"b":199.137},{"i":10,"a":198.72,"b":198.88},{"i":11,"a":198.57,"b":198.75},{"i":12,"a":198.42,"b":198.665},{"i":13,"a":198.35,"b":198.61},{"i":14,"a":198.30,"b":198.56},{"i":15,"a":198.25,"b":198.512},{"i":16,"a":198.20,"b":198.512},{"i":17,"a":198.163,"b":198.512},{"i":18,"a":198.163,"b":198.512},{"i":19,"a":198.163,"b":198.512},{"i":20,"a":198.205,"b":198.47},{"i":21,"a":198.293,"b":198.408},{"i":22,"a":198.33,"b":198.395},{"i":23,"a":198.34,"b":198.37},{"i":24,"a":198.345,"b":198.35},
{"i":25,"a":198.355,"b":198.345},{"i":26,"a":198.365,"b":198.345},{"i":27,"a":198.375,"b":198.345},{"i":28,"a":198.385,"b":198.345},{"i":29,"a":198.40,"b":198.345},{"i":30,"a":198.425,"b":198.345},{"i":31,"a":198.40,"b":198.345},{"i":32,"a":198.37,"b":198.345},{"i":36,"a":198.36,"b":198.345},{"i":37,"a":198.375,"b":198.345},{"i":38,"a":198.39,"b":198.345},{"i":39,"a":198.398,"b":198.345},{"i":40,"a":198.42,"b":198.345},{"i":41,"a":198.44,"b":198.345},{"i":42,"a":198.48,"b":198.345},{"i":43,"a":198.525,"b":198.345},{"i":44,"a":198.555,"b":198.345},{"i":45,"a":198.578,"b":198.345},{"i":46,"a":198.56,"b":198.345},{"i":47,"a":198.53,"b":198.345},{"i":48,"a":198.51,"b":198.345},{"i":49,"a":198.495,"b":198.345},{"i":50,"a":198.475,"b":198.345},{"i":51,"a":198.46,"b":198.345},{"i":52,"a":198.445,"b":198.345},{"i":53,"a":198.435,"b":198.345},{"i":54,"a":198.424,"b":198.345},{"i":55,"a":198.415,"b":198.345},{"i":56,"a":198.408,"b":198.345},{"i":57,"a":198.455,"b":198.26},{"i":58,"a":198.49,"b":198.241},{"i":59,"a":198.55,"b":198.241},{"i":60,"a":198.56,"b":198.241},{"i":61,"a":198.557,"b":198.241},{"i":62,"a":198.554,"b":198.241},{"i":63,"a":198.554,"b":198.319},{"i":64,"a":198.559,"b":198.398},{"i":65,"a":198.56,"b":198.398},{"i":66,"a":198.562,"b":198.398},{"i":67,"a":198.564,"b":198.398},{"i":68,"a":198.566,"b":198.398},{"i":69,"a":198.568,"b":198.398},{"i":70,"a":198.57,"b":198.398},{"i":71,"a":198.575,"b":198.398},{"i":72,"a":198.60,"b":198.43},{"i":73,"a":198.64,"b":198.46},{"i":74,"a":198.658,"b":198.46},{"i":75,"a":198.66,"b":198.46},{"i":76,"a":198.61,"b":198.46},{"i":77,"a":198.59,"b":198.46},{"i":78,"a":198.59,"b":198.46},{"i":79,"a":198.592,"b":198.46},{"i":80,"a":198.593,"b":198.46},{"i":81,"a":198.594,"b":198.46},{"i":82,"a":198.595,"b":198.46},{"i":83,"a":198.596,"b":198.46},{"i":84,"a":198.62,"b":198.49},{"i":85,"a":198.606,"b":198.59},
{"i":87,"a":198.57,"b":198.59},{"i":88,"a":198.55,"b":198.59},{"i":89,"a":198.535,"b":198.59},{"i":90,"a":198.525,"b":198.59},{"i":91,"a":198.515,"b":198.59},{"i":92,"a":198.52,"b":198.59},{"i":93,"a":198.53,"b":198.59},{"i":94,"a":198.538,"b":198.59},{"i":95,"a":198.542,"b":198.59},{"i":96,"a":198.55,"b":198.587},{"i":97,"a":198.56,"b":198.585},
{"i":99,"a":198.61,"b":198.596},{"i":100,"a":198.625,"b":198.596},{"i":101,"a":198.645,"b":198.60},{"i":102,"a":198.675,"b":198.62},{"i":103,"a":198.705,"b":198.64},{"i":104,"a":198.735,"b":198.655},{"i":105,"a":198.755,"b":198.658},{"i":106,"a":198.77,"b":198.658},{"i":107,"a":198.785,"b":198.658},{"i":108,"a":198.804,"b":198.658},{"i":109,"a":198.83,"b":198.658},{"i":110,"a":198.78,"b":198.658},{"i":111,"a":198.745,"b":198.658},{"i":112,"a":198.72,"b":198.658},{"i":113,"a":198.70,"b":198.658},{"i":114,"a":198.684,"b":198.658},
{"i":115,"a":198.64,"b":198.648},{"i":116,"a":198.632,"b":198.648},{"i":117,"a":198.61,"b":198.648},{"i":118,"a":198.58,"b":198.648},{"i":119,"a":198.554,"b":198.648},{"i":120,"a":198.51,"b":198.58},{"i":121,"a":198.44,"b":198.528},{"i":122,"a":198.36,"b":198.528},{"i":123,"a":198.32,"b":198.46},{"i":124,"a":198.30,"b":198.46},{"i":125,"a":198.29,"b":198.46},{"i":126,"a":198.278,"b":198.46},{"i":127,"a":198.275,"b":198.46},{"i":128,"a":198.27,"b":198.46},{"i":129,"a":198.267,"b":198.46},{"i":130,"a":198.25,"b":198.46},{"i":131,"a":198.23,"b":198.46},{"i":132,"a":198.226,"b":198.46},{"i":133,"a":198.226,"b":198.46},{"i":134,"a":198.19,"b":198.46},{"i":135,"a":198.15,"b":198.46},{"i":136,"a":198.12,"b":198.46},{"i":137,"a":198.09,"b":198.46},{"i":138,"a":198.088,"b":198.46},{"i":139,"a":198.095,"b":198.46},{"i":140,"a":198.12,"b":198.46},{"i":141,"a":198.14,"b":198.46},{"i":142,"a":198.11,"b":198.46},{"i":143,"a":198.075,"b":198.46},{"i":144,"a":198.075,"b":198.43},{"i":145,"a":198.05,"b":198.39},{"i":146,"a":197.996,"b":198.33},{"i":147,"a":197.955,"b":198.319},{"i":148,"a":197.956,"b":198.313},{"i":149,"a":197.957,"b":198.307},{"i":150,"a":197.958,"b":198.30},{"i":151,"a":197.959,"b":198.295},{"i":152,"a":197.96,"b":198.29},{"i":153,"a":197.96,"b":198.28},{"i":154,"a":197.96,"b":198.27},{"i":155,"a":197.96,"b":198.26},{"i":156,"a":197.96,"b":198.25},{"i":157,"a":197.962,"b":198.24},{"i":158,"a":197.968,"b":198.225},{"i":159,"a":197.974,"b":198.21},{"i":160,"a":197.98,"b":198.195},{"i":161,"a":197.90,"b":198.03},{"i":162,"a":197.861,"b":197.96},{"i":163,"a":197.861,"b":197.96},{"i":164,"a":197.861,"b":197.96},{"i":165,"a":197.861,"b":197.96},{"i":166,"a":197.861,"b":197.96},{"i":167,"a":197.76,"b":197.88},{"i":168,"a":197.66,"b":197.76},{"i":169,"a":197.58,"b":197.694},{"i":170,"a":197.58,"b":197.694},{"i":171,"a":197.58,"b":197.694},{"i":172,"a":197.62,"b":197.694},{"i":173,"a":197.68,"b":197.694},
{"i":177,"a":197.83,"b":197.74},{"i":178,"a":198.00,"b":197.77},{"i":179,"a":198.20,"b":197.95},{"i":180,"a":198.33,"b":198.101},{"i":181,"a":198.44,"b":198.101},{"i":182,"a":198.505,"b":198.17},{"i":183,"a":198.515,"b":198.216},{"i":184,"a":198.525,"b":198.22},{"i":185,"a":198.535,"b":198.22},{"i":186,"a":198.56,"b":198.22},{"i":187,"a":198.59,"b":198.22},{"i":188,"a":198.63,"b":198.22},{"i":189,"a":198.675,"b":198.22},{"i":190,"a":198.68,"b":198.22},{"i":191,"a":198.68,"b":198.22},{"i":192,"a":198.68,"b":198.22},{"i":193,"a":198.68,"b":198.22},{"i":194,"a":198.68,"b":198.22},{"i":195,"a":198.69,"b":198.22},{"i":196,"a":198.70,"b":198.22},{"i":197,"a":198.715,"b":198.22},{"i":198,"a":198.70,"b":198.22},{"i":199,"a":198.60,"b":198.22},{"i":200,"a":198.53,"b":198.22},{"i":201,"a":198.38,"b":198.22},
{"i":203,"a":197.95,"b":198.00},{"i":204,"a":197.82,"b":197.88},{"i":205,"a":197.66,"b":197.72},{"i":206,"a":197.55,"b":197.58},{"i":207,"a":197.44,"b":197.45},{"i":208,"a":197.34,"b":197.397},{"i":209,"a":197.24,"b":197.397},{"i":210,"a":197.13,"b":197.397},{"i":211,"a":196.95,"b":197.397}
],
"hc":[
{"i":73.9,"p":195.204},{"i":75.1,"p":195.324},{"i":77.4,"p":195.501},{"i":119.5,"p":195.501},{"i":121.9,"p":195.548},{"i":126.4,"p":195.579},{"i":129.5,"p":195.741},{"i":148.1,"p":195.756},{"i":149.75,"p":195.808},{"i":164,"p":195.813},{"i":165,"p":195.907},{"i":176,"p":195.907},{"i":176.9,"p":195.959},{"i":179,"p":195.970},{"i":179.75,"p":196.043},{"i":184.75,"p":196.043},{"i":186,"p":196.058},{"i":212.9,"p":196.058},{"i":214.4,"p":196.100},{"i":216.75,"p":196.152},{"i":219.75,"p":196.251},{"i":223.6,"p":196.376},{"i":226.6,"p":196.460},{"i":233.25,"p":196.460}
],
"hb":[
{"i":75,"p":195.324},{"i":76,"p":195.44},{"i":77,"p":195.501},{"i":78,"p":195.501},{"i":79,"p":195.501},{"i":80,"p":195.501},{"i":81,"p":195.501},{"i":82,"p":195.501},{"i":83,"p":195.501},{"i":84,"p":195.501},{"i":85,"p":195.501},{"i":86,"p":195.501},{"i":87,"p":195.501},{"i":88,"p":195.501},{"i":89,"p":195.501},{"i":90,"p":195.501},{"i":91,"p":195.501},{"i":92,"p":195.501},{"i":93,"p":195.501},{"i":94,"p":195.501},{"i":95,"p":195.501},{"i":96,"p":195.501},{"i":97,"p":195.501},{"i":98,"p":195.501},{"i":99,"p":195.501},{"i":100,"p":195.501},{"i":101,"p":195.501},{"i":102,"p":195.501},{"i":103,"p":195.501},{"i":104,"p":195.501},{"i":105,"p":195.501},{"i":106,"p":195.501},{"i":107,"p":195.501},{"i":108,"p":195.501},{"i":109,"p":195.501},{"i":110,"p":195.501},{"i":111,"p":195.501},{"i":112,"p":195.501},{"i":113,"p":195.501},{"i":114,"p":195.501},{"i":115,"p":195.501},{"i":116,"p":195.501},{"i":117,"p":195.501},{"i":118,"p":195.501},{"i":119,"p":195.501},{"i":120,"p":195.52},{"i":121,"p":195.54},{"i":122,"p":195.55},{"i":123,"p":195.56},{"i":124,"p":195.57},{"i":125,"p":195.575},{"i":126,"p":195.579},{"i":127,"p":195.62},{"i":128,"p":195.68},{"i":129,"p":195.74},{"i":130,"p":195.756},{"i":131,"p":195.756},{"i":132,"p":195.756},{"i":133,"p":195.756},{"i":134,"p":195.756},{"i":135,"p":195.756},{"i":136,"p":195.756},{"i":137,"p":195.756},{"i":138,"p":195.756},{"i":139,"p":195.756},{"i":140,"p":195.756},{"i":141,"p":195.756},{"i":142,"p":195.756},{"i":143,"p":195.756},{"i":144,"p":195.756},{"i":145,"p":195.756},{"i":146,"p":195.756},{"i":147,"p":195.756},{"i":148,"p":195.756},{"i":149,"p":195.78},{"i":150,"p":195.81},{"i":151,"p":195.81},{"i":152,"p":195.81},{"i":153,"p":195.81},{"i":154,"p":195.81},{"i":155,"p":195.81},{"i":156,"p":195.81},{"i":157,"p":195.81},{"i":158,"p":195.81},{"i":159,"p":195.81},{"i":160,"p":195.81},{"i":161,"p":195.81},{"i":162,"p":195.81},{"i":163,"p":195.81},{"i":164,"p":195.81},{"i":165,"p":195.907},{"i":166,"p":195.907},{"i":167,"p":195.907},{"i":168,"p":195.907},{"i":169,"p":195.907},{"i":170,"p":195.907},{"i":171,"p":195.907},{"i":172,"p":195.907},{"i":173,"p":195.907},{"i":174,"p":195.907},{"i":175,"p":195.907},{"i":176,"p":195.907},{"i":177,"p":195.959},{"i":178,"p":195.965},{"i":179,"p":195.970},{"i":180,"p":196.043},{"i":181,"p":196.043},{"i":182,"p":196.043},{"i":183,"p":196.043},{"i":184,"p":196.043},{"i":185,"p":196.043},{"i":186,"p":196.058},{"i":187,"p":196.058},{"i":188,"p":196.058},{"i":189,"p":196.058},{"i":190,"p":196.058},{"i":191,"p":196.058},{"i":192,"p":196.058},{"i":193,"p":196.058},{"i":194,"p":196.058},{"i":195,"p":196.058},{"i":196,"p":196.058},{"i":197,"p":196.058},{"i":198,"p":196.058},{"i":199,"p":196.058},{"i":200,"p":196.058},{"i":201,"p":196.058},{"i":202,"p":196.058},{"i":203,"p":196.058},{"i":204,"p":196.058},{"i":205,"p":196.058},{"i":206,"p":196.058},{"i":207,"p":196.058},{"i":208,"p":196.058},{"i":209,"p":196.058},{"i":210,"p":196.058},{"i":211,"p":196.058},{"i":212,"p":196.058},{"i":213,"p":196.08},{"i":214,"p":196.10},{"i":215,"p":196.12},{"i":216,"p":196.14},{"i":217,"p":196.17},{"i":218,"p":196.20},{"i":219,"p":196.23},{"i":220,"p":196.26},{"i":221,"p":196.29},{"i":222,"p":196.32},{"i":223,"p":196.35},{"i":224,"p":196.39},{"i":225,"p":196.42},{"i":226,"p":196.45},{"i":227,"p":196.46},{"i":228,"p":196.46},{"i":229,"p":196.46},{"i":230,"p":196.46},{"i":231,"p":196.46},{"i":232,"p":196.46},{"i":233,"p":196.46}
],
"hl":[
{"p":199.5,"k":"g"},{"p":198.5,"k":"g"},{"p":197.5,"k":"g"},{"p":196.5,"k":"g"},{"p":195.5,"k":"g"},
{"p":199.0,"k":"o"},{"p":198.0,"k":"o"},{"p":197.0,"k":"o"},{"p":196.0,"k":"o"},
{"p":195.662,"k":"b"}
],
"vl":[{"i":17.875},{"i":41.875},{"i":64.875},{"i":65.875},{"i":89.875},{"i":113.875},{"i":137.875},{"i":161.875},{"i":185.875}],
"yl":[{"i1":78.4,"i2":159.75,"p":199.104},{"i1":154.4,"i2":166.9,"p":199.257}],
"ci":[{"i":154.25,"p":198.965}],
"bx":[{"p":199.0,"t":"199.000","k":"o"},{"p":198.0,"t":"198.000","k":"o"},{"p":197.0,"t":"197.000","k":"o"},{"p":196.0,"t":"196.000","k":"o"},{"p":195.662,"t":"195.662","k":"w"}],
"tx":[
{"t":"195.822","i":232.6,"p":199.580,"k":"big"},
{"t":"195.662","i":232.6,"p":199.450,"k":"big"},
{"t":"Day(20) = 1.236","i":232.6,"p":199.299,"k":"w"},
{"t":"Day(10) = 1.198","i":232.6,"p":199.221,"k":"w"},
{"t":"Day(5) = 1.238","i":232.6,"p":199.148,"k":"w"},
{"t":"MAX(40) = 2.551","i":232.6,"p":199.070,"k":"w"},
{"t":"MIN(40) = 0.707","i":232.6,"p":198.991,"k":"w"},
{"t":"Today = 3.970","i":232.6,"p":198.913,"k":"r"},
{"t":"Change = -3.328","i":232.6,"p":198.835,"k":"r"},
{"t":"▼ GBPJPY,H1  195.504 195.807 195.458 195.662","i":0.4,"p":199.670,"k":"ti"},
{"t":"GBPJPY-H1","i":0.625,"p":195.313,"k":"sy"},
{"t":"(A)　ドンピシャ、十字架","i":127.75,"p":199.196,"k":"ja"},
{"t":"(B)　ドンピシャ","i":157.75,"p":199.398,"k":"ja"}
]
},
"layer":[
{"data":{"name":"hb"},"mark":{"type":"rule","color":"#2424a8","strokeWidth":1},
 "encoding":{
  "x":{"field":"i","type":"quantitative","title":null,"scale":{"domain":[-0.625,233.25],"nice":false,"zero":false},
   "axis":{"orient":"bottom","values":[0,8,16,24,32,40,48,56,64,72,80,88,96,104,112,120,128,136,144,152,160,168,176,184],
    "labelExpr":"['23 Jul 2025','23 Jul 14:00','23 Jul 22:00','24 Jul 06:00','24 Jul 14:00','24 Jul 22:00','25 Jul 06:00','25 Jul 14:00','25 Jul 22:00','28 Jul 06:00','28 Jul 14:00','28 Jul 22:00','29 Jul 06:00','29 Jul 14:00','29 Jul 22:00','30 Jul 06:00','30 Jul 14:00','30 Jul 22:00','31 Jul 06:00','31 Jul 14:00','31 Jul 22:00','1 Aug 06:00','1 Aug 14:00','1 Aug 22:00'][round(datum.value/8)]",
    "labelAlign":"left","labelDx":-1,"labelFlush":false,"labelOverlap":false,"labelBound":false}},
  "y":{"field":"p","type":"quantitative","title":null,"scale":{"domain":[195.204,199.726],"nice":false,"zero":false},
   "axis":{"orient":"right","values":[199.695,199.525,199.355,199.18,198.835,198.665,198.49,198.32,198.15,197.975,197.805,197.63,197.46,197.29,197.115,196.945,196.77,196.6,196.425,196.255,196.085,195.91,195.74,195.565,195.395,195.225],"format":".3f","labelOverlap":false,"labelBound":false}},
  "y2":{"datum":195.204}}},
{"data":{"name":"hc"},"mark":{"type":"line","color":"#f4a460","strokeWidth":1,"clip":true},
 "encoding":{"x":{"field":"i","type":"quantitative","title":null},"y":{"field":"p","type":"quantitative","title":null}}},
{"data":{"name":"kh"},"mark":{"type":"rule","strokeWidth":1},
 "encoding":{"x":{"field":"i","type":"quantitative","title":null},"y":{"field":"a","type":"quantitative","title":null},"y2":{"field":"b"},
  "color":{"condition":{"test":"datum.a>datum.b","value":"#2a2aa8"},"value":"#b82828"}}},
{"data":{"name":"hl"},"mark":{"type":"rule","strokeWidth":1},
 "encoding":{"y":{"field":"p","type":"quantitative","title":null},
  "color":{"field":"k","type":"nominal","scale":{"domain":["g","o","b"],"range":["#008000","#808000","#8080c8"]},"legend":null},
  "strokeDash":{"field":"k","type":"nominal","scale":{"domain":["g","o","b"],"range":[[3,3],[3,3],[1,0]]},"legend":null}}},
{"data":{"name":"vl"},"mark":{"type":"rule","color":"#808080","strokeWidth":1,"strokeDash":[6,3]},
 "encoding":{"x":{"field":"i","type":"quantitative","title":null}}},
{"data":{"name":"ln"},"transform":[{"filter":"indexof(['b0','b1','b2','b3'],datum.s)>=0"}],
 "mark":{"type":"line","color":"#b4b4b4","strokeWidth":1,"strokeDash":[2,2],"clip":true},
 "encoding":{"x":{"field":"i","type":"quantitative","title":null},"y":{"field":"p","type":"quantitative","title":null},"detail":{"field":"s"},"order":{"field":"i"}}},
{"data":{"name":"ku"},"mark":{"type":"line","color":"#f4a460","strokeWidth":1},
 "encoding":{"x":{"field":"i","type":"quantitative","title":null},"y":{"field":"a","type":"quantitative","title":null},"order":{"field":"i"}}},
{"data":{"name":"ku"},"mark":{"type":"line","color":"#d8bfd8","strokeWidth":1},
 "encoding":{"x":{"field":"i","type":"quantitative","title":null},"y":{"field":"b","type":"quantitative","title":null},"order":{"field":"i"}}},
{"data":{"name":"c"},"mark":{"type":"rule","color":"#00ff00","strokeWidth":1},
 "encoding":{"x":{"field":"i","type":"quantitative","title":null},"y":{"field":"l","type":"quantitative","title":null},"y2":{"field":"h"}}},
{"data":{"name":"c"},"mark":{"type":"bar","width":4,"orient":"vertical","stroke":"#00ff00","strokeWidth":1},
 "encoding":{"x":{"field":"i","type":"quantitative","title":null},"y":{"field":"o","type":"quantitative","title":null},"y2":{"field":"c"},
  "fill":{"condition":{"test":"datum.c<datum.o","value":"#ffffff"},"value":"#000000"}}},
{"data":{"name":"ln"},"transform":[{"filter":"datum.s=='pe'"}],"mark":{"type":"line","color":"#ffdab9","strokeWidth":3},
 "encoding":{"x":{"field":"i","type":"quantitative","title":null},"y":{"field":"p","type":"quantitative","title":null},"order":{"field":"i"}}},
{"data":{"name":"ln"},"transform":[{"filter":"datum.s=='pl'"}],"mark":{"type":"line","color":"#dda0dd","strokeWidth":3},
 "encoding":{"x":{"field":"i","type":"quantitative","title":null},"y":{"field":"p","type":"quantitative","title":null},"order":{"field":"i"}}},
{"data":{"name":"ln"},"transform":[{"filter":"datum.s=='go'"}],"mark":{"type":"line","color":"#daa520","strokeWidth":3},
 "encoding":{"x":{"field":"i","type":"quantitative","title":null},"y":{"field":"p","type":"quantitative","title":null},"order":{"field":"i"}}},
{"data":{"name":"ln"},"transform":[{"filter":"datum.s=='yg'"}],"mark":{"type":"line","color":"#9acd32","strokeWidth":3},
 "encoding":{"x":{"field":"i","type":"quantitative","title":null},"y":{"field":"p","type":"quantitative","title":null},"order":{"field":"i"}}},
{"data":{"name":"ln"},"transform":[{"filter":"datum.s=='rt'"}],"mark":{"type":"line","color":"#ff0000","strokeWidth":3},
 "encoding":{"x":{"field":"i","type":"quantitative","title":null},"y":{"field":"p","type":"quantitative","title":null},"order":{"field":"i"}}},
{"data":{"name":"ln"},"transform":[{"filter":"datum.s=='pk'"}],
 "mark":{"type":"line","color":"#ff1493","strokeWidth":2,"strokeDash":[6,4]},
 "encoding":{"x":{"field":"i","type":"quantitative","title":null},"y":{"field":"p","type":"quantitative","title":null},"order":{"field":"i"}}},
{"data":{"name":"ln"},"transform":[{"filter":"datum.s=='cu'||datum.s=='cl'"}],
 "mark":{"type":"line","color":"#1ec8dc","strokeWidth":1.5,"strokeDash":[9,5]},
 "encoding":{"x":{"field":"i","type":"quantitative","title":null},"y":{"field":"p","type":"quantitative","title":null},"detail":{"field":"s"},"order":{"field":"i"}}},
{"data":{"name":"ln"},"transform":[{"filter":"datum.s=='cy'"}],
 "mark":{"type":"line","color":"#00ffff","strokeWidth":3},
 "encoding":{"x":{"field":"i","type":"quantitative","title":null},"y":{"field":"p","type":"quantitative","title":null},"order":{"field":"i"}}},
{"data":{"name":"ln"},"transform":[{"filter":"datum.s=='rd'"}],
 "mark":{"type":"line","color":"#ff0000","strokeWidth":1,"strokeDash":[2,2]},
 "encoding":{"x":{"field":"i","type":"quantitative","title":null},"y":{"field":"p","type":"quantitative","title":null},"order":{"field":"i"}}},
{"data":{"name":"ln"},"transform":[{"filter":"datum.s=='y1'"}],
 "mark":{"type":"line","color":"#ffff00","strokeWidth":2},
 "encoding":{"x":{"field":"i","type":"quantitative","title":null},"y":{"field":"p","type":"quantitative","title":null},"order":{"field":"i"}}},
{"data":{"name":"yl"},"mark":{"type":"rule","color":"#ffff00","strokeWidth":1},
 "encoding":{"x":{"field":"i1","type":"quantitative","title":null},"x2":{"field":"i2"},"y":{"field":"p","type":"quantitative","title":null}}},
{"data":{"name":"ci"},"mark":{"type":"point","shape":"circle","size":12544,"filled":false,"stroke":"#c8b400","strokeWidth":1,"opacity":1},
 "encoding":{"x":{"field":"i","type":"quantitative","title":null},"y":{"field":"p","type":"quantitative","title":null}}},
{"data":{"name":"tx"},"transform":[{"filter":"datum.k=='big'"}],
 "mark":{"type":"text","align":"right","baseline":"middle","font":"Liberation Sans","fontSize":25,"color":"#7cfc00"},
 "encoding":{"x":{"field":"i","type":"quantitative","title":null},"y":{"field":"p","type":"quantitative","title":null},"text":{"field":"t"}}},
{"data":{"name":"tx"},"transform":[{"filter":"datum.k=='w'"}],
 "mark":{"type":"text","align":"right","baseline":"middle","font":"Liberation Sans","fontSize":13,"color":"#ffffff"},
 "encoding":{"x":{"field":"i","type":"quantitative","title":null},"y":{"field":"p","type":"quantitative","title":null},"text":{"field":"t"}}},
{"data":{"name":"tx"},"transform":[{"filter":"datum.k=='r'"}],
 "mark":{"type":"text","align":"right","baseline":"middle","font":"Liberation Sans","fontSize":13,"color":"#ff0000"},
 "encoding":{"x":{"field":"i","type":"quantitative","title":null},"y":{"field":"p","type":"quantitative","title":null},"text":{"field":"t"}}},
{"data":{"name":"tx"},"transform":[{"filter":"datum.k=='ti'"}],
 "mark":{"type":"text","align":"left","baseline":"middle","font":"Liberation Sans","fontSize":10,"color":"#ffffff"},
 "encoding":{"x":{"field":"i","type":"quantitative","title":null},"y":{"field":"p","type":"quantitative","title":null},"text":{"field":"t"}}},
{"data":{"name":"tx"},"transform":[{"filter":"datum.k=='sy'"}],
 "mark":{"type":"text","align":"left","baseline":"middle","font":"Liberation Serif","fontSize":21,"color":"#ffffff"},
 "encoding":{"x":{"field":"i","type":"quantitative","title":null},"y":{"field":"p","type":"quantitative","title":null},"text":{"field":"t"}}},
{"data":{"name":"tx"},"transform":[{"filter":"datum.k=='ja'"}],
 "mark":{"type":"text","align":"left","baseline":"middle","font":"Noto Sans CJK JP","fontSize":17,"color":"#f0f000"},
 "encoding":{"x":{"field":"i","type":"quantitative","title":null},"y":{"field":"p","type":"quantitative","title":null},"text":{"field":"t"}}},
{"data":{"name":"bx"},"mark":{"type":"point","shape":"M-1,-0.22H1V0.22H-1Z","size":1764,"filled":true,"opacity":1,"clip":false},
 "encoding":{"x":{"datum":236.25,"type":"quantitative"},"y":{"field":"p","type":"quantitative","title":null},
  "color":{"field":"k","type":"nominal","scale":{"domain":["o","w"],"range":["#808000","#ffffff"]},"legend":null}}},
{"data":{"name":"bx"},"mark":{"type":"text","align":"left","baseline":"middle","font":"Liberation Sans","fontSize":10,"color":"#000000","clip":false},
 "encoding":{"x":{"datum":233.9,"type":"quantitative"},"y":{"field":"p","type":"quantitative","title":null},"text":{"field":"t"}}}
]
}
